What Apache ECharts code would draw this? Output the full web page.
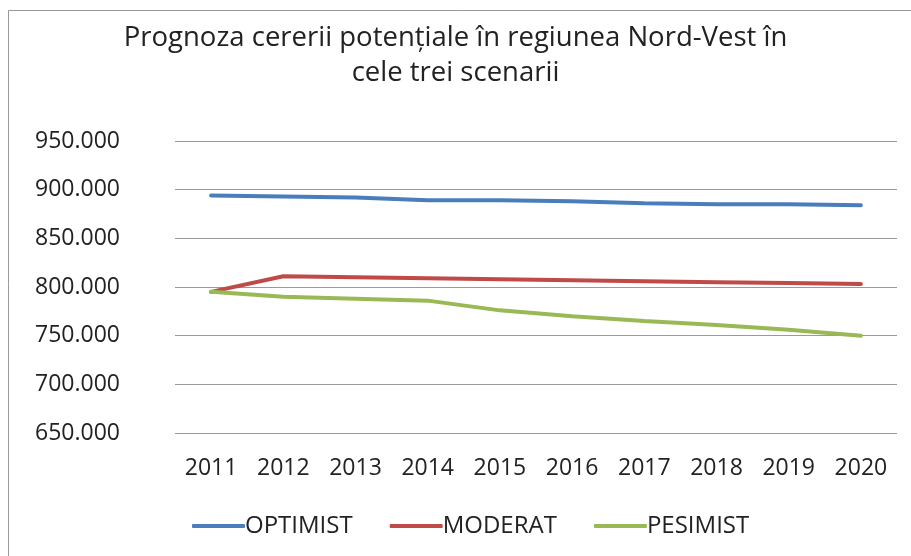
<!DOCTYPE html>
<html>
<head>
<meta charset="utf-8">
<script src="https://cdn.jsdelivr.net/npm/echarts@6/dist/echarts.min.js"></script>
<style>
  html, body { margin: 0; padding: 0; background: #fff; }
  #chart { width: 911px; height: 556px; }
</style>
</head>
<body>
<div id="chart"></div>
<script>
  // date din grafic
  var years = ['2011', '2012', '2013', '2014', '2015', '2016', '2017', '2018', '2019', '2020'];
  var optimist = [894, 893, 892, 889, 889, 888, 886, 885, 885, 884];
  var moderat = [795, 811, 810, 809, 808, 807, 806, 805, 804, 803];
  var pesimist = [795, 790, 788, 786, 776, 770, 765, 761, 756, 750];
  var seriesNames = ['OPTIMIST', 'MODERAT', 'PESIMIST'];
  var seriesColors = ['#4A7EBB', '#BE4B48', '#98B954'];

  var font = 'Open Sans';

  function lineSeries(name, data, color) {
    return {
      name: name,
      type: 'line',
      data: data,
      symbol: 'none',
      lineStyle: { color: color, width: 4, cap: 'round' },
      itemStyle: { color: color }
    };
  }

  var myChart = echarts.init(document.getElementById('chart'));
  myChart.setOption({
    animation: false,
    title: {
      text: 'Prognoza cererii potențiale în regiunea Nord-Vest în\ncele trei scenarii',
      left: 'center',
      top: 21,
      padding: [0, 12, 0, 0],
      textStyle: {
        fontFamily: font,
        fontSize: 27.5,
        fontWeight: 'normal',
        color: '#222',
        lineHeight: 35
      }
    },
    graphic: [{
      type: 'rect',
      shape: { x: 8.5, y: 10.5, width: 920, height: 560 },
      style: { fill: 'none', stroke: '#999', lineWidth: 1 }
    }],
    legend: {
      data: seriesNames,
      bottom: 18,
      left: 192,
      itemWidth: 53,
      itemHeight: 4,
      itemGap: 37,
      padding: 0,
      icon: 'roundRect',
      textStyle: { fontFamily: font, fontSize: 24, color: '#222', padding: [0, 0, 0, -5] }
    },
    grid: {
      left: 175,
      right: 14,
      top: 141,
      bottom: 123
    },
    xAxis: {
      type: 'category',
      data: years,
      boundaryGap: true,
      axisLine: { show: false },
      axisTick: { show: false },
      axisLabel: { fontFamily: font, fontSize: 23, color: '#222', margin: 24 }
    },
    yAxis: {
      type: 'value',
      min: 650,
      max: 950,
      interval: 50,
      axisLine: { show: false },
      axisTick: { show: false },
      splitLine: { lineStyle: { color: '#9a9a9a', width: 1 } },
      axisLabel: {
        fontFamily: font,
        fontSize: 23,
        color: '#222',
        margin: 55,
        formatter: function (v) { return v + '.000'; }
      }
    },
    series: [
      lineSeries(seriesNames[0], optimist, seriesColors[0]),
      lineSeries(seriesNames[1], moderat, seriesColors[1]),
      lineSeries(seriesNames[2], pesimist, seriesColors[2])
    ]
  });
</script>
</body>
</html>
